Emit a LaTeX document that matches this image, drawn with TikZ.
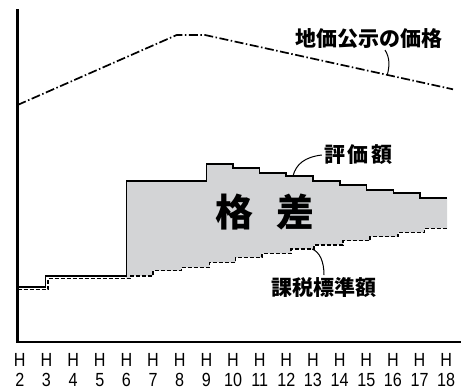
\documentclass[tikz,border=0pt]{standalone}
\usepackage{fontspec}
\newfontfamily\jp{Noto Sans CJK JP}
\newfontfamily\jpblack{Noto Sans CJK JP Black}
\newfontfamily\axisfont[FakeStretch=0.85]{Liberation Sans}
\definecolor{gapgray}{RGB}{211,212,214}
\begin{document}
\begin{tikzpicture}[x=1bp,y=-1bp,
  axisline/.style={line width=2.2bp,line cap=rect},
  valueline/.style={line width=1.8bp,line join=miter},
  taxline/.style={line width=1.5bp,dash pattern=on 4bp off 2bp},
  priceline/.style={line width=1.7bp,dash pattern=on 9bp off 2.5bp on 1.5bp off 2.5bp},
  leader/.style={line width=1bp},
  jplabel/.style={inner sep=0pt,font=\jp\bfseries\fontsize{21bp}{21bp}\selectfont},
  biglabel/.style={inner sep=0pt,font=\jpblack\fontsize{38bp}{38bp}\selectfont},
  yearlabel/.style={inner sep=0pt,anchor=base,font=\axisfont\fontsize{19bp}{19bp}\selectfont}
]
\useasboundingbox (0,0) rectangle (461,390);
% gap fill
\fill[gapgray] (126.4,181) -- (206.5,181) -- (206.5,164) -- (233,164) -- (233,168.3) -- (259.5,168.3) -- (259.5,173.3) -- (286,173.3) -- (286,176) -- (313,176) -- (313,181) -- (340,181) -- (340,185) -- (366.5,185) -- (366.5,190) -- (393.5,190) -- (393.5,193.3) -- (420,193.3) -- (420,197.7) -- (447,197.7)
  -- (447,228.3) -- (424.5,228.3) -- (424.5,232.3) -- (398,232.3) -- (398,236.7) -- (370,236.7) -- (370,240.7) -- (343,240.7) -- (343,245) -- (314,245) -- (314,249) -- (291,249) -- (291,253.3) -- (262,253.3) -- (262,257.3) -- (235.5,257.3) -- (235.5,262.3) -- (209.5,262.3) -- (209.5,267.3) -- (181.5,267.3) -- (181.5,270.7) -- (153,270.7) -- (153,276) -- (130,276) -- (130,278.5) -- (126.4,278.5) -- cycle;
% axes
\coordinate (top) at (17.5,10);
\coordinate (origin) at (17.5,342);
\coordinate (right) at (460,342);
\draw[axisline] (top) -- (origin) -- (right);
% price (dash-dot)
\coordinate (p0) at (17.5,105);
\coordinate (p1) at (176.7,35);
\coordinate (p2) at (205,35);
\coordinate (p3) at (453,89.3);
\draw[priceline] (p0) -- (p1) -- (p2) -- (p3);
% assessed value (solid)
\coordinate (v0) at (17.5,286.7);
\draw[valueline] (v0) -- (45.5,286.7) -- (45.5,276) -- (126.4,276) -- (126.4,181) -- (206.5,181) -- (206.5,164) -- (233,164) -- (233,168.3) -- (259.5,168.3) -- (259.5,173.3) -- (286,173.3) -- (286,176) -- (313,176) -- (313,181) -- (340,181) -- (340,185) -- (366.5,185) -- (366.5,190) -- (393.5,190) -- (393.5,193.3) -- (420,193.3) -- (420,197.7) -- (447,197.7);
% tax standard (dashed)
\coordinate (t0) at (17.5,289.3);
\draw[taxline] (t0) -- (48,289.3) -- (48,278.5) -- (130,278.5) -- (130,276) -- (153,276) -- (153,270.7) -- (181.5,270.7) -- (181.5,267.3) -- (209.5,267.3) -- (209.5,262.3) -- (235.5,262.3) -- (235.5,257.3) -- (262,257.3) -- (262,253.3) -- (291,253.3) -- (291,249) -- (314,249) -- (314,245) -- (343,245) -- (343,240.7) -- (370,240.7) -- (370,236.7) -- (398,236.7) -- (398,232.3) -- (424.5,232.3) -- (424.5,228.3) -- (447,228.3);
% labels
\node[jplabel] (price) at (369,38.3) {地価公示の価格};
\node[jplabel] (value) at (358.5,155) {評\hspace{3bp}価\hspace{3bp}額};
\node[biglabel] (gap) at (265,211.7) {格\hspace{24bp}差};
\node[jplabel] (tax) at (323.5,287) {課税標準額};
% leaders
\coordinate (pricept) at (387.5,74);
\coordinate (valuept) at (293,176);
\coordinate (taxpt) at (312,249);
\draw[leader] (385,50) .. controls (390,58) and (389.5,66) .. (pricept);
\draw[leader] (value.west) ++(-2,0) .. controls (305,157) and (296,164) .. (valuept);
\draw[leader] (taxpt) .. controls (320,252) and (324,262) .. (324,275);
% year labels
\foreach \n in {2,...,18} {
  \pgfmathsetmacro{\xx}{19.8+(\n-2)*26.65}
  \node[yearlabel] (h\n) at (\xx,366.7) {H};
  \node[yearlabel] (y\n) at (\xx,386.7) {\n};
}
\end{tikzpicture}
\end{document}
